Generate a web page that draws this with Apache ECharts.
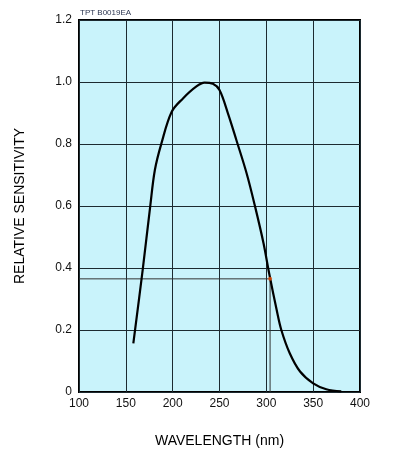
<!DOCTYPE html>
<html>
<head>
<meta charset="utf-8">
<script src="https://cdn.jsdelivr.net/npm/echarts@6/dist/echarts.min.js"></script>
<style>
  html, body { margin: 0; padding: 0; background: #fff; }
  #chart { width: 398px; height: 458px; }
</style>
</head>
<body>
<div id="chart"></div>
<script>
// wavelength (nm) and relative sensitivity
var wavelength = [158, 168, 176, 181, 188, 199, 211, 225, 234, 243, 250, 259, 268, 279, 288, 297, 303, 311, 316, 325, 336, 350, 364, 380];
var sensitivity = [0.157, 0.394, 0.598, 0.716, 0.802, 0.904, 0.947, 0.985, 0.998, 0.994, 0.974, 0.899, 0.813, 0.705, 0.598, 0.48, 0.383, 0.265, 0.2, 0.125, 0.066, 0.028, 0.009, 0.002];
// marked point on the curve
var markX = 304;
var markY = 0.365;

var xTicks = [100, 150, 200, 250, 300, 350, 400];
var yTicks = [0, 0.2, 0.4, 0.6, 0.8, 1.0, 1.2];

var curve = wavelength.map(function (w, i) { return [w, sensitivity[i]]; });

var chart = echarts.init(document.getElementById('chart'));
chart.setOption({
    animation: false,
    title: {
        text: 'TPT B0019EA',
        left: 75,
        top: 4,
        textStyle: { fontSize: 8, fontWeight: 'normal', color: '#2b3550', fontFamily: 'Liberation Sans, Arial' }
    },
    grid: {
        left: 79, right: 38, top: 20, bottom: 66,
        show: true,
        backgroundColor: '#c9f3fb',
        borderColor: '#000',
        borderWidth: 2
    },
    xAxis: {
        type: 'value',
        min: xTicks[0],
        max: xTicks[xTicks.length - 1],
        interval: 50,
        name: 'WAVELENGTH (nm)',
        nameLocation: 'middle',
        nameGap: 42,
        nameTextStyle: { fontSize: 14, color: '#000', fontFamily: 'Liberation Sans, Arial' },
        axisLine: { show: false },
        axisTick: { show: false },
        axisLabel: { fontSize: 12, color: '#111', margin: 6, fontFamily: 'Liberation Sans, Arial' },
        splitLine: { show: true, lineStyle: { color: '#1c2a30', width: 1 } }
    },
    yAxis: {
        type: 'value',
        min: yTicks[0],
        max: yTicks[yTicks.length - 1],
        interval: 0.2,
        name: 'RELATIVE SENSITIVITY',
        nameLocation: 'middle',
        nameGap: 52,
        nameTextStyle: { fontSize: 14, color: '#000', fontFamily: 'Liberation Sans, Arial' },
        axisLine: { show: false },
        axisTick: { show: false },
        axisLabel: {
            fontSize: 12, color: '#111', margin: 7, fontFamily: 'Liberation Sans, Arial',
            formatter: function (v) { return v === 0 ? '0' : v.toFixed(1); }
        },
        splitLine: { show: true, lineStyle: { color: '#1c2a30', width: 1 } }
    },
    series: [
        {
            type: 'line',
            data: [[xTicks[0], markY], [markX, markY]],
            symbol: 'none',
            lineStyle: { color: '#333', width: 1 },
            z: 2
        },
        {
            type: 'line',
            data: [[markX, 0], [markX, markY]],
            symbol: 'none',
            lineStyle: { color: '#333', width: 1 },
            z: 2
        },
        {
            type: 'line',
            data: curve,
            smooth: 0.35,
            symbol: 'none',
            lineStyle: { color: '#000', width: 2.2 },
            z: 3
        },
        {
            type: 'scatter',
            data: [[markX, markY]],
            symbolSize: 4,
            itemStyle: { color: '#e8500a' },
            z: 4
        }
    ]
});
</script>
</body>
</html>
